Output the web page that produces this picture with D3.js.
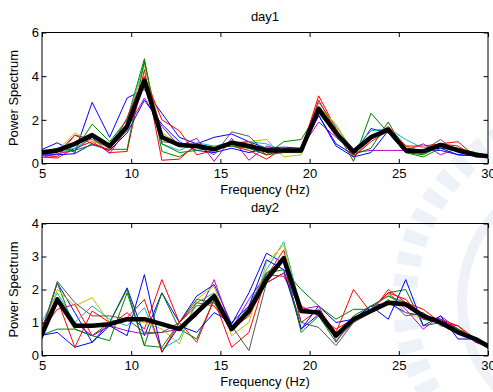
<!DOCTYPE html>
<html>
<head>
<meta charset="utf-8">
<script src="https://cdn.jsdelivr.net/npm/d3@7"></script>
<style>
  body { margin: 0; background: #fff; }
  svg { font-family: "Liberation Sans", Arial, sans-serif; }
  .tick text { font-size: 13px; fill: #000; }
  .tick line { stroke: #000; }
</style>
</head>
<body>
<div id="chart"></div>
<script>
// frequency bins (Hz)
var freqs = [4.88, 5.86, 6.84, 7.81, 8.79, 9.77, 10.74, 11.72, 12.70, 13.67, 14.65, 15.63, 16.60, 17.58,
             18.55, 19.53, 20.51, 21.48, 22.46, 23.44, 24.41, 25.39, 26.37, 27.34, 28.32, 29.30, 30.27];
var xTicks = [5, 10, 15, 20, 25, 30];
var lineColors = ["#0000ff", "#008000", "#ff0000", "#00bfbf", "#bf00bf", "#bfbf00", "#555555", "#0000ff", "#008000", "#ff0000"];

// day1 trials
var day1Trials = [
  [0.6,0.95,0.5,2.8,1.2,3.0,3.4,2.3,1.2,0.9,1.2,1.35,1.0,0.7,0.6,0.6,2.2,0.9,0.4,1.6,1.4,0.5,0.6,0.6,0.4,0.35,0.4],
  [0.5,0.7,0.6,1.8,1.0,2.0,4.8,0.55,0.3,0.8,0.7,0.9,0.7,0.4,1.0,1.1,2.4,1.5,0.1,2.3,1.4,0.5,0.3,0.7,0.6,0.4,0.3],
  [0.3,0.25,0.7,1.0,0.5,0.55,4.3,0.15,0.2,0.9,0.7,0.8,0.6,0.2,0.7,0.6,3.1,1.6,0.3,1.0,1.5,0.8,0.5,0.9,0.8,0.3,0.3],
  [0.5,0.6,0.7,1.2,0.9,2.0,4.6,0.9,0.6,0.95,0.8,0.95,1.0,0.9,0.6,0.5,2.8,1.7,0.6,1.5,1.6,1.1,0.7,0.9,0.7,0.4,0.3],
  [0.25,0.45,0.6,1.2,0.45,1.6,3.0,1.7,0.8,1.15,0.1,1.15,0.15,0.8,0.6,0.7,1.9,1.2,0.5,0.6,0.6,0.6,0.9,0.4,0.7,0.4,0.3],
  [0.5,0.6,1.4,1.0,0.8,1.8,4.5,1.4,0.9,0.7,0.8,0.9,1.0,1.1,0.3,0.4,2.6,1.8,0.5,1.2,1.6,0.8,0.5,0.9,0.6,0.4,0.3],
  [0.4,0.5,1.3,1.1,0.7,1.5,3.9,1.0,0.9,0.8,0.4,1.45,1.25,0.5,0.6,0.5,2.3,1.3,0.5,1.3,1.5,0.7,0.6,1.1,0.5,0.4,0.3],
  [0.4,0.4,0.45,0.9,0.6,1.4,2.9,1.8,1.0,0.6,0.5,0.7,0.5,0.7,0.75,0.7,2.2,0.8,0.3,0.5,1.5,0.6,0.6,0.7,0.4,0.35,0.4],
  [0.5,0.55,0.6,0.85,0.65,0.65,4.7,0.9,0.5,0.6,0.7,0.8,0.7,0.4,0.5,0.5,2.6,1.4,0.4,0.7,1.9,0.5,0.4,0.8,0.7,0.5,0.3],
  [0.4,0.3,1.3,0.9,0.6,2.1,4.0,2.0,1.5,0.4,0.6,0.9,1.0,0.4,0.6,0.6,2.9,1.5,0.3,1.1,1.7,0.8,0.8,0.9,1.0,0.3,0.3]
];
var day1Mean = [0.5,0.6,0.9,1.3,0.8,1.7,3.8,1.2,0.85,0.8,0.65,0.95,0.8,0.6,0.6,0.6,2.5,1.4,0.55,1.2,1.55,0.6,0.55,0.85,0.6,0.4,0.3];
var day1YTicks = [0, 2, 4, 6];

// day2 trials
var day2Trials = [
  [0.6,2.2,1.3,0.4,1.0,2.05,0.6,1.9,1.0,1.8,2.15,0.95,1.9,3.1,2.8,0.8,1.5,1.0,1.1,1.5,1.6,1.3,1.2,1.1,0.8,0.4,0.3],
  [0.5,2.2,0.8,0.6,1.0,2.0,0.3,1.9,0.8,0.5,1.7,0.8,1.5,2.5,2.6,2.0,1.5,1.1,1.4,1.4,1.9,2.0,0.9,1.0,0.8,0.5,0.2],
  [0.7,1.4,1.55,0.6,0.9,1.3,0.8,2.3,1.0,0.4,1.7,0.25,0.7,2.4,3.2,1.0,1.4,0.7,2.0,1.3,2.0,1.6,1.4,1.0,0.9,0.5,0.2],
  [0.9,1.9,1.0,1.5,1.1,0.9,1.45,0.2,0.5,1.6,1.9,0.9,1.4,2.6,3.45,1.4,1.3,0.6,1.1,1.5,1.8,1.5,1.2,1.0,0.8,0.5,0.3],
  [0.7,1.6,1.0,0.6,0.9,0.75,0.65,0.7,0.8,1.2,2.3,0.8,1.7,2.45,2.4,1.4,1.5,0.45,1.0,1.4,1.9,1.4,0.8,1.2,0.8,0.5,0.15],
  [0.6,2.0,1.5,1.75,1.0,1.1,1.0,0.8,0.35,1.7,2.1,0.6,1.0,2.8,3.35,1.3,1.3,0.6,1.0,1.4,1.85,1.3,1.1,1.0,0.7,0.5,0.25],
  [0.5,2.25,1.6,1.2,1.2,1.1,0.7,0.7,1.0,1.5,1.6,0.9,0.15,2.2,2.5,1.0,0.85,0.3,1.0,1.3,1.7,1.2,1.3,0.9,0.8,0.5,0.2],
  [0.6,0.7,0.25,0.4,0.9,0.6,2.45,0.1,0.9,0.7,1.3,1.0,1.5,2.9,2.6,0.8,1.25,0.6,1.1,1.5,1.1,2.3,0.9,1.2,0.5,0.5,0.2],
  [0.6,0.8,0.8,0.6,0.45,1.9,0.3,0.25,1.0,1.7,1.6,0.75,1.3,2.5,2.9,0.7,1.2,0.4,1.2,1.5,1.8,1.6,1.1,1.0,0.8,0.5,0.2],
  [0.8,1.7,0.25,1.35,1.0,1.15,1.7,0.1,1.0,1.6,1.5,0.8,1.2,2.2,2.5,1.5,1.2,0.8,1.1,1.4,1.9,1.7,1.1,1.1,0.9,0.4,0.2]
];
var day2Mean = [0.5,1.7,0.9,0.9,0.95,1.1,1.1,0.95,0.8,1.3,1.8,0.8,1.35,2.3,2.95,1.35,1.3,0.6,1.1,1.35,1.6,1.55,1.2,1.0,0.7,0.5,0.2];
var day2YTicks = [0, 1, 2, 3, 4];

var W = 493, H = 392;
var svg = d3.select('#chart').append('svg')
  .attr('width', W)
  .attr('height', H);

// faint watermark in the lower right
var wm = svg.append('g').attr('fill', 'none');
wm.append('circle').attr('cx', 590).attr('cy', 300).attr('r', 185)
  .attr('stroke', '#edf1f8').attr('stroke-width', 24).attr('stroke-dasharray', '12 10');
wm.append('circle').attr('cx', 590).attr('cy', 300).attr('r', 128)
  .attr('stroke', '#eef2f8').attr('stroke-width', 10);

function drawPanel(opts) {
  var left = 42, right = 488;
  var x = d3.scaleLinear().domain([5, 30]).range([left, right]);
  var y = d3.scaleLinear().domain(opts.yDomain).range([opts.bottom, opts.top]);
  var g = svg.append('g');

  var clipId = 'clip-' + opts.name;
  svg.append('clipPath').attr('id', clipId)
    .append('rect')
      .attr('x', left).attr('y', opts.top)
      .attr('width', right - left).attr('height', opts.bottom - opts.top);

  var line = d3.line()
    .x(function(d, i) { return x(freqs[i]); })
    .y(function(d) { return y(d); });

  var lines = g.append('g').attr('clip-path', 'url(#' + clipId + ')');
  lines.selectAll('path.trial')
    .data(opts.trials)
    .enter().append('path')
      .attr('class', 'trial')
      .attr('d', line)
      .attr('fill', 'none')
      .attr('stroke', function(d, i) { return lineColors[i % lineColors.length]; })
      .attr('stroke-width', 1);

  lines.append('path')
    .attr('d', line(opts.mean))
    .attr('fill', 'none')
    .attr('stroke', '#000')
    .attr('stroke-width', 4.5)
    .attr('stroke-linejoin', 'round');

  // ticks inside, MATLAB style
  var tk = 4.5;
  g.append('g')
    .attr('transform', 'translate(0,' + opts.bottom + ')')
    .call(d3.axisBottom(x).tickValues(xTicks).tickSize(-tk).tickPadding(5).tickFormat(d3.format('d')))
    .call(function(a) { a.select('.domain').remove(); });
  g.append('g')
    .attr('transform', 'translate(0,' + opts.top + ')')
    .call(d3.axisTop(x).tickValues(xTicks).tickSize(-tk).tickFormat(''))
    .call(function(a) { a.select('.domain').remove(); });
  g.append('g')
    .attr('transform', 'translate(' + left + ',0)')
    .call(d3.axisLeft(y).tickValues(opts.yTicks).tickSize(-tk).tickPadding(3).tickFormat(d3.format('d')))
    .call(function(a) { a.select('.domain').remove(); });
  g.append('g')
    .attr('transform', 'translate(' + right + ',0)')
    .call(d3.axisRight(y).tickValues(opts.yTicks).tickSize(-tk).tickFormat(''))
    .call(function(a) { a.select('.domain').remove(); });

  g.append('rect')
    .attr('x', left).attr('y', opts.top)
    .attr('width', right - left).attr('height', opts.bottom - opts.top)
    .attr('fill', 'none').attr('stroke', '#000').attr('stroke-width', 1);

  g.append('text')
    .attr('x', (left + right) / 2).attr('y', opts.top - 12)
    .attr('text-anchor', 'middle').attr('font-size', 13)
    .text(opts.name);

  g.append('text')
    .attr('x', (left + right) / 2).attr('y', opts.bottom + 30)
    .attr('text-anchor', 'middle').attr('font-size', 13)
    .text('Frequency (Hz)');

  g.append('text')
    .attr('transform', 'translate(18,' + ((opts.top + opts.bottom) / 2) + ') rotate(-90)')
    .attr('text-anchor', 'middle').attr('font-size', 13)
    .text('Power Spectrum');
}

drawPanel({ name: 'day1', top: 32.5, bottom: 163.5, yDomain: [0, 6], yTicks: day1YTicks, trials: day1Trials, mean: day1Mean });
drawPanel({ name: 'day2', top: 223.5, bottom: 355.5, yDomain: [0, 4], yTicks: day2YTicks, trials: day2Trials, mean: day2Mean });
</script>
</body>
</html>
